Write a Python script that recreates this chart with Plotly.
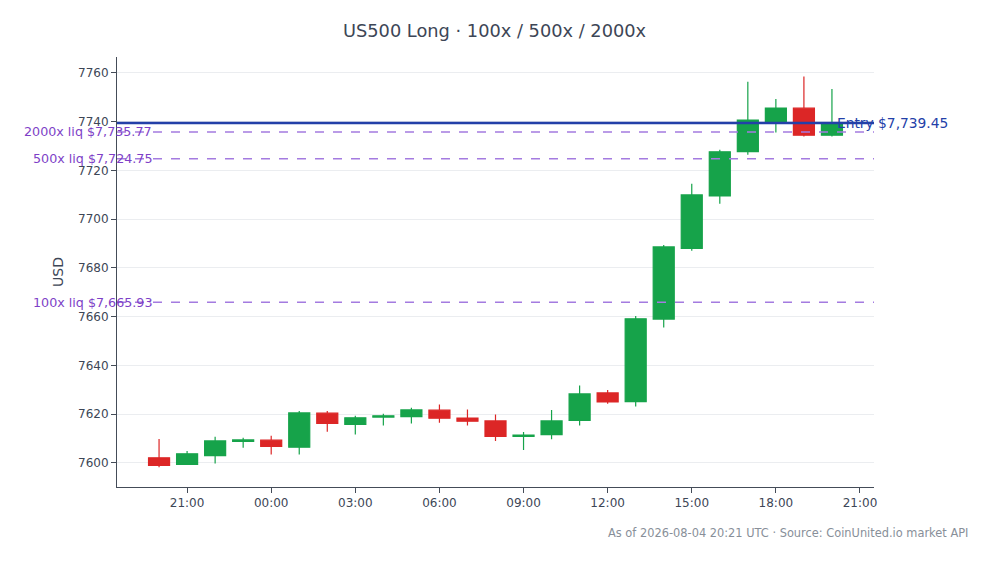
import pandas as pd
import plotly.graph_objects as go

# hourly candles, 2026-08-03 20:00 -> 2026-08-04 20:00 UTC
times = pd.date_range("2026-08-03 20:00", periods=25, freq="h")
opens = [7602.1, 7599.4, 7603.0, 7608.8, 7609.3, 7606.4, 7620.4, 7615.8, 7618.8, 7619.0,
         7621.6, 7618.4, 7617.2, 7610.9, 7611.6, 7617.4, 7628.7, 7625.1, 7659.0, 7688.0,
         7709.5, 7727.7, 7740.1, 7745.5, 7734.4]
highs = [7609.8, 7604.9, 7610.7, 7610.3, 7611.1, 7621.3, 7621.3, 7619.3, 7620.2, 7622.6,
         7623.9, 7621.9, 7619.8, 7612.7, 7621.7, 7631.7, 7629.9, 7660.3, 7689.4, 7714.5,
         7728.5, 7756.3, 7749.3, 7758.5, 7753.4]
lows = [7598.2, 7599.2, 7599.7, 7606.2, 7603.4, 7603.4, 7612.8, 7611.6, 7615.3, 7616.1,
        7616.5, 7615.3, 7609.0, 7605.3, 7609.7, 7615.3, 7624.3, 7623.1, 7655.5, 7687.0,
        7706.3, 7726.4, 7735.5, 7733.9, 7733.9]
closes = [7599.0, 7603.7, 7609.0, 7609.4, 7606.8, 7620.5, 7616.2, 7618.5, 7619.3, 7621.7,
          7618.3, 7617.1, 7610.9, 7611.4, 7617.2, 7628.3, 7625.0, 7659.1, 7688.6, 7709.9,
          7727.6, 7740.6, 7745.5, 7734.4, 7739.45]

entry = 7739.45
liq_labels = ["100x", "500x", "2000x"]
liq_prices = [7665.93, 7724.75, 7735.77]

GREEN = "#16a34a"
RED = "#dc2626"
PURPLE = "#a47be0"
PURPLE_TXT = "#7e3fc7"
BLUE = "#2340a8"
INK = "#3d4656"

fig = go.Figure(go.Candlestick(
    x=times, open=opens, high=highs, low=lows, close=closes,
    increasing=dict(line=dict(color=GREEN, width=1.2), fillcolor=GREEN),
    decreasing=dict(line=dict(color=RED, width=1.2), fillcolor=RED),
    whiskerwidth=0, showlegend=False,
))

fig.add_hline(y=entry, line=dict(color=BLUE, width=2.5))
fig.add_annotation(x=0.948, xref="paper", y=entry, yref="y", text=f"Entry ${entry:,.2f}",
                   showarrow=False, xanchor="left", yanchor="middle",
                   font=dict(size=13.8, color=BLUE))

for lab, p in zip(liq_labels, liq_prices):
    fig.add_hline(y=p, line=dict(color=PURPLE, width=1.5, dash="dash"))
    fig.add_annotation(x=0.049, xref="paper", y=p, yref="y", text=f"{lab} liq ${p:,.2f}",
                       showarrow=False, xanchor="right", yanchor="middle",
                       font=dict(size=12.7, color=PURPLE_TXT))

fig.add_annotation(x=1.127, xref="paper", y=-0.107, yref="paper",
                   text="As of 2026-08-04 20:21 UTC · Source: CoinUnited.io market API",
                   showarrow=False, xanchor="right", yanchor="middle",
                   font=dict(size=11.4, color="#888f99"))

fig.update_layout(
    width=993, height=564,
    template="plotly_white",
    font=dict(family="DejaVu Sans", size=12, color=INK),
    title=dict(text="US500 Long · 100x / 500x / 2000x", x=0.49, xanchor="center",
               y=0.959, yanchor="middle", font=dict(size=17.8, color=INK)),
    margin=dict(l=109, r=127, t=49, b=85),
    boxgap=0.25, boxgroupgap=0,
    plot_bgcolor="white", paper_bgcolor="white",
)
fig.update_xaxes(
    range=[pd.Timestamp("2026-08-03 18:30"), pd.Timestamp("2026-08-04 21:30")],
    rangeslider_visible=False, showgrid=False,
    tickformat="%H:%M", dtick=3 * 3600 * 1000, tick0="2026-08-03 21:00",
    showline=True, linecolor="#444c58", linewidth=1,
    ticks="outside", tickcolor="#444c58", ticklen=5,
)
fig.update_yaxes(
    range=[7590.1, 7766.5], dtick=20, gridcolor="#ebedf0",
    showline=True, linecolor="#444c58", linewidth=1,
    ticks="outside", tickcolor="#444c58", ticklen=5,
    title=dict(text="USD", font=dict(size=14), standoff=11),
    zeroline=False,
)

fig.write_html("out.html")
